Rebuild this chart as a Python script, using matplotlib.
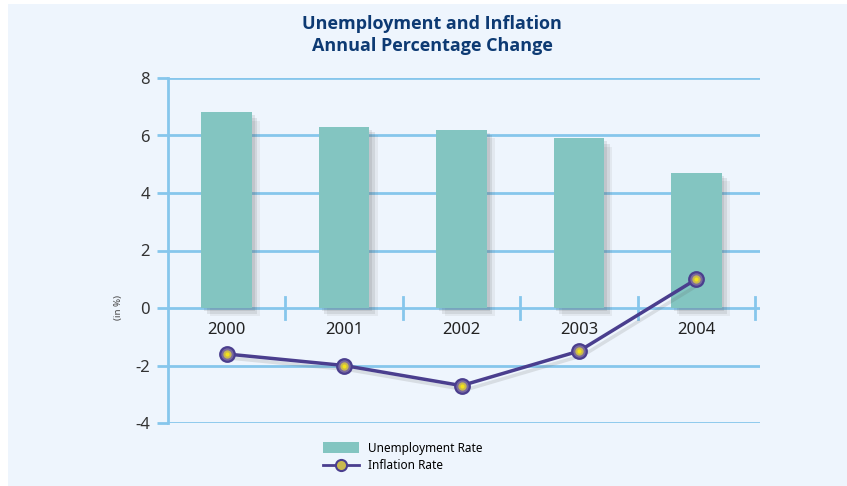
import matplotlib
matplotlib.use("Agg")
import matplotlib.pyplot as plt
import matplotlib.patheffects as pe
from matplotlib.patches import Patch, Rectangle
from matplotlib.lines import Line2D
from matplotlib import font_manager as fm

years = ["2000", "2001", "2002", "2003", "2004"]
unemployment = [6.8, 6.3, 6.2, 5.9, 4.7]
inflation = [-1.6, -2.0, -2.7, -1.5, 1.0]
yticks = [-4, -2, 0, 2, 4, 6, 8]
title = "Unemployment and Inflation\nAnnual Percentage Change"

names = {f.name for f in fm.fontManager.ttflist}
body_font = "Noto Sans" if "Noto Sans" in names else "DejaVu Sans"
bold_fams = {}
for f in fm.fontManager.ttflist:
    w = f.weight if isinstance(f.weight, int) else 700 if "bold" in str(f.weight).lower() else 400
    if w >= 600 and "italic" not in f.style:
        bold_fams.setdefault(f.name, f.fname)
title_font = "DejaVu Sans"
for cand in ["Open Sans", "Noto Sans", "Lato", "Roboto", "Liberation Sans Narrow", "Liberation Sans"]:
    if cand in bold_fams:
        title_font = cand
        break

W, H = 847, 486
fig = plt.figure(figsize=(W / 100, H / 100), dpi=100)
fig.patch.set_facecolor("white")
fig.patches.append(Rectangle((8 / W, 0), 1 - 8 / W, 1 - 4 / H, transform=fig.transFigure,
                             facecolor="#EEF5FD", edgecolor="none", zorder=-10))

grid_c = "#86C6EC"
bar_c = "#83C5C1"
line_c = "#4A3E8E"

L, R, T, B = 168, 760, 78, 423
ax = fig.add_axes([L / W, 1 - B / H, (R - L) / W, (B - T) / H])
ax.patch.set_visible(False)
cat_w = 117.4
ax.set_xlim(-0.5, -0.5 + (R - L) / cat_w)
ax.set_ylim(-4, 8)

for s in ["top", "right", "bottom"]:
    ax.spines[s].set_visible(False)
ax.spines["left"].set_color(grid_c)
ax.spines["left"].set_linewidth(2)
ax.spines["left"].set_zorder(1)

ax.set_yticks(yticks)
ax.set_yticklabels([str(v) for v in yticks], fontsize=12, color="#333333", family=body_font)
ax.tick_params(axis="y", length=8, width=2, color=grid_c, pad=5)
ax.set_xticks([])
for v in yticks:
    ax.axhline(v, color=grid_c, lw=2, zorder=0.5)

# category boundary ticks on the zero line
xs = list(range(len(years)))
for i in xs:
    ax.plot([i + 0.5, i + 0.5], [-0.38, 0.38], color=grid_c, lw=2, zorder=0.5)

shadow = [pe.SimplePatchShadow(offset=(2, -2), shadow_rgbFace="#555555", alpha=0.12),
          pe.SimplePatchShadow(offset=(4, -4), shadow_rgbFace="#555555", alpha=0.12),
          pe.SimplePatchShadow(offset=(6, -6), shadow_rgbFace="#555555", alpha=0.08),
          pe.Normal()]
bars = ax.bar(xs, unemployment, width=0.43, color=bar_c, zorder=2)
for b in bars:
    b.set_path_effects(shadow)

for i, y in zip(xs, years):
    ax.annotate(y, xy=(i, 0), xytext=(0, -10), textcoords="offset points",
                ha="center", va="top", fontsize=12, color="#222222", family=body_font)

ax.plot(xs, inflation, color=line_c, lw=2.5, zorder=3,
        path_effects=[pe.SimpleLineShadow(offset=(3, -3), shadow_color="#555555", alpha=0.15), pe.Normal()])
ax.plot(xs, inflation, ls="none", marker="o", ms=10.5, mfc="#7A6A9E", mec=line_c, mew=1.6, zorder=4)
ax.plot(xs, inflation, ls="none", marker="o", ms=6, mfc="#C9B94E", mec="none", zorder=5)
ax.plot(xs, inflation, ls="none", marker="o", ms=3, mfc="#F2E21A", mec="none", zorder=6)

fig.text(118 / W, 1 - 307 / H, "(in %)", rotation=90, ha="center", va="center",
         fontsize=7, color="#444444", family=body_font)

fig.text(432 / W, 1 - 35 / H, title, ha="center", va="center", fontsize=13,
         fontweight="bold", color="#0D3A73", family=title_font, linespacing=1.25)

handles = [Patch(facecolor=bar_c, edgecolor="none"),
           Line2D([], [], color=line_c, lw=2, marker="o", ms=8, mfc="#C9B94E", mec=line_c, mew=1.5)]
fig.legend(handles, ["Unemployment Rate", "Inflation Rate"], loc="upper left",
           bbox_to_anchor=(312 / W, 1 - 431 / H), frameon=False,
           handlelength=3.1, handleheight=0.95, handletextpad=0.75, labelspacing=0.4,
           prop={"family": body_font, "size": 8.5})

fig.savefig("out.png", dpi=100, facecolor=fig.get_facecolor())
